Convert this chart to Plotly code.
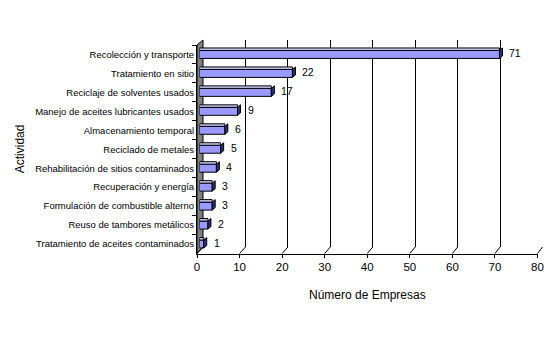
import plotly.graph_objects as go

# ---- data ----
categories = [
    "Recolección y transporte",
    "Tratamiento en sitio",
    "Reciclaje de solventes usados",
    "Manejo de aceites lubricantes usados",
    "Almacenamiento temporal",
    "Reciclado de metales",
    "Rehabilitación de sitios contaminados",
    "Recuperación y energía",
    "Formulación de combustible alterno",
    "Reuso de tambores metálicos",
    "Tratamiento de aceites contaminados",
]
values = [71, 22, 17, 9, 6, 5, 4, 3, 3, 2, 1]
x_ticks = [0, 10, 20, 30, 40, 50, 60, 70, 80]
x_title = "Número de Empresas"
y_title = "Actividad"

# ---- geometry (pixels of a 555x343 canvas) ----
W, H = 555, 343
def px(x):
    return x / W
def py(y):
    return 1 - y / H

FRONT_L, FRONT_R = 197, 537.5
FRONT_T, FRONT_B = 45, 253.5
BACK_L, BACK_R = 203, 542.5
BACK_T, BACK_B = 40, 247
BAR_L, BAR_R = 199.5, 537.5

FONT = "Liberation Sans, Arial, sans-serif"
BAR_FACE = "#9999FF"
BAR_SIDE = "#2E2E73"
BAR_TOP = "#C8C8F5"
WALL = "#808080"

fig = go.Figure()

# back wall subplot (gridlines only)
fig.add_trace(go.Scatter(x=[x_ticks[0]], y=[0], xaxis="x2", yaxis="y2",
                         mode="markers", marker=dict(opacity=0),
                         hoverinfo="skip", showlegend=False))
# front axes subplot
fig.add_trace(go.Scatter(x=[x_ticks[0]], y=[categories[0]], xaxis="x", yaxis="y",
                         mode="markers", marker=dict(opacity=0),
                         hoverinfo="skip", showlegend=False))

# bars
fig.add_trace(go.Bar(
    x=values, y=categories, orientation="h", xaxis="x3", yaxis="y",
    marker=dict(color=BAR_FACE, line=dict(color="black", width=1)),
    width=0.42, showlegend=False, hoverinfo="skip",
))

shapes = []
# left wall
shapes.append(dict(
    type="path", xref="paper", yref="paper", layer="below",
    path=(f"M{px(FRONT_L)},{py(FRONT_B)} L{px(FRONT_L)},{py(FRONT_T)} "
          f"L{px(BACK_L)},{py(BACK_T)} L{px(BACK_L)},{py(BACK_B)} Z"),
    fillcolor=WALL, line=dict(color="black", width=1),
))
# floor connectors from front ticks to back gridlines
for t in x_ticks:
    fx = FRONT_L + (FRONT_R - FRONT_L) * t / x_ticks[-1]
    bx = BACK_L + (BACK_R - BACK_L) * t / x_ticks[-1]
    shapes.append(dict(type="line", xref="paper", yref="paper",
                       x0=px(fx), y0=py(FRONT_B), x1=px(bx), y1=py(BACK_B),
                       line=dict(color="black", width=1)))

# 3D faces of bars
for c, v in zip(categories, values):
    shapes.append(dict(
        type="rect", xref="x3", yref="y", ysizemode="pixel", yanchor=c,
        x0=0, x1=v, y0=4, y1=6.5, fillcolor=BAR_TOP,
        line=dict(color="black", width=1), layer="above"))
    shapes.append(dict(
        type="path", xref="x3", yref="y", xsizemode="pixel", ysizemode="pixel",
        xanchor=v, yanchor=c,
        path="M0,-4 L0,4 L3,6.5 L3,-1.5 Z",
        fillcolor=BAR_SIDE, line=dict(color="black", width=1), layer="above"))

annotations = []
for c, v in zip(categories, values):
    annotations.append(dict(
        x=v, y=c, xref="x3", yref="y", text=str(v), showarrow=False,
        xanchor="left", yanchor="middle", xshift=8, yshift=1,
        font=dict(family=FONT, size=10.5, color="black")))
annotations.append(dict(
    x=px((FRONT_L + FRONT_R) / 2), y=py(295), xref="paper", yref="paper",
    text=x_title, showarrow=False, xanchor="center", yanchor="middle",
    font=dict(family=FONT, size=12, color="black")))
annotations.append(dict(
    x=px(20), y=py((FRONT_T + FRONT_B) / 2), xref="paper", yref="paper",
    text=y_title, showarrow=False, textangle=-90, xanchor="center", yanchor="middle",
    font=dict(family=FONT, size=12, color="black")))

fig.update_layout(
    template="none",
    width=W, height=H,
    margin=dict(l=0, r=0, t=0, b=0),
    paper_bgcolor="white", plot_bgcolor="rgba(0,0,0,0)",
    showlegend=False,
    font=dict(family=FONT, color="black"),
    xaxis=dict(
        domain=[px(FRONT_L), px(FRONT_R)], range=[x_ticks[0], x_ticks[-1]],
        anchor="y", tickvals=x_ticks, ticks="outside", ticklen=3,
        tickcolor="black", showline=True, linecolor="black", linewidth=1,
        showgrid=False, zeroline=False, automargin=False,
        tickfont=dict(family=FONT, size=11.5, color="black"),
    ),
    yaxis=dict(
        domain=[py(FRONT_B), py(FRONT_T)], type="category",
        categoryorder="array", categoryarray=categories,
        range=[len(categories) - 0.5, -0.5], autorange=False,
        anchor="x", tickson="boundaries", ticks="outside", ticklen=4,
        tickcolor="black", showline=True, linecolor="black", linewidth=1,
        showgrid=False, zeroline=False, automargin=False,
        tickfont=dict(family=FONT, size=9.5, color="black"),
    ),
    xaxis2=dict(
        domain=[px(BACK_L), px(BACK_R)], range=[x_ticks[0], x_ticks[-1]],
        anchor="y2", tickvals=x_ticks, showticklabels=False, ticks="",
        showgrid=True, gridcolor="black", gridwidth=1, zeroline=False,
        showline=False, automargin=False,
    ),
    yaxis2=dict(
        domain=[py(BACK_B), py(BACK_T)], range=[0, 1], anchor="x2",
        showgrid=False, zeroline=False, showline=False, showticklabels=False,
        ticks="", automargin=False,
    ),
    xaxis3=dict(
        domain=[px(BAR_L), px(BAR_R)], range=[x_ticks[0], x_ticks[-1]],
        anchor="y", visible=False, automargin=False,
    ),
    shapes=shapes,
    annotations=annotations,
)

fig.write_html("out.html")
